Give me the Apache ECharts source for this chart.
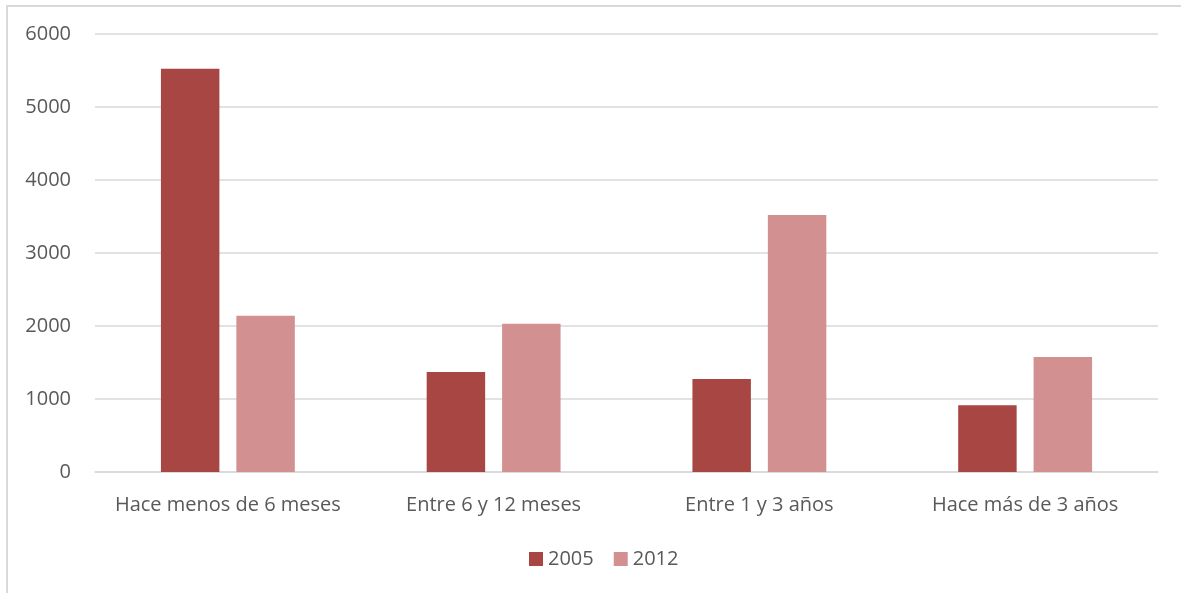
<!DOCTYPE html>
<html>
<head>
<meta charset="utf-8">
<script src="https://cdn.jsdelivr.net/npm/echarts@6/dist/echarts.min.js"></script>
<style>
  html, body { margin: 0; padding: 0; background: #fff; }
  #frame { position: absolute; left: 6px; top: 5px; width: 1180px; height: 600px; border: 2px solid #d9d9d9; box-sizing: border-box; }
  #chart { position: absolute; left: 0; top: 0; width: 1181px; height: 593px; }
</style>
</head>
<body>
<div id="frame"></div>
<div id="chart"></div>
<script>
const categories = ['Hace menos de 6 meses', 'Entre 6 y 12 meses', 'Entre 1 y 3 años', 'Hace más de 3 años'];
const seriesNames = ['2005', '2012'];
const values2005 = [5525, 1370, 1275, 915];
const values2012 = [2140, 2030, 3520, 1575];
const yTicks = [0, 1000, 2000, 3000, 4000, 5000, 6000];

const textColor = '#595959';
const fontFamily = 'Open Sans, Noto Sans, sans-serif';

const chart = echarts.init(document.getElementById('chart'), null, { renderer: 'canvas' });
chart.setOption({
  animation: false,
  backgroundColor: 'transparent',
  color: ['#A84644', '#D29090'],
  grid: { left: 95, right: 23, top: 34, bottom: 121, containLabel: false },
  legend: {
    data: seriesNames,
    top: 544,
    left: 524,
    itemWidth: 14,
    itemHeight: 14,
    itemGap: 20,
    icon: 'rect',
    textStyle: { color: textColor, fontSize: 20, fontFamily: fontFamily }
  },
  xAxis: {
    type: 'category',
    data: categories,
    axisLine: { show: true, lineStyle: { color: '#d9d9d9', width: 1.5 } },
    axisTick: { show: false },
    axisLabel: { color: textColor, fontSize: 20, fontFamily: fontFamily, margin: 23, interval: 0 }
  },
  yAxis: {
    type: 'value',
    min: yTicks[0],
    max: yTicks[yTicks.length - 1],
    interval: 1000,
    axisLine: { show: false },
    axisTick: { show: false },
    splitLine: { lineStyle: { color: '#d9d9d9', width: 1.5 } },
    axisLabel: {
      color: textColor, fontSize: 20, fontFamily: fontFamily, margin: 24,
      formatter: v => String(v)
    }
  },
  series: [
    { name: seriesNames[0], type: 'bar', data: values2005, barWidth: '22%', barGap: '29%' },
    { name: seriesNames[1], type: 'bar', data: values2012, barWidth: '22%', barGap: '29%' }
  ]
});
</script>
</body>
</html>
